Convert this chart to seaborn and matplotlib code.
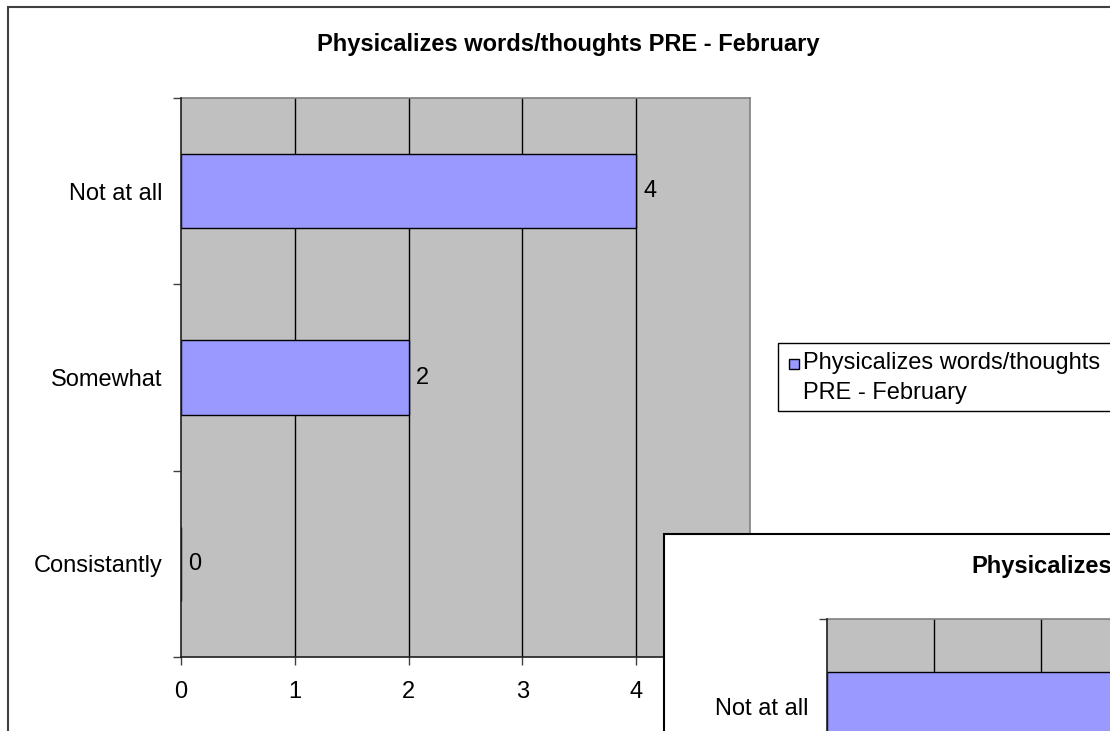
import matplotlib
matplotlib.use('Agg')
import matplotlib.pyplot as plt
import seaborn as sns
import pandas as pd
from matplotlib.patches import Rectangle

# data
categories = ['Not at all', 'Somewhat', 'Consistantly']
counts = [4, 2, 0]
x_ticks = [0, 1, 2, 3, 4]
series_name = 'Physicalizes words/thoughts PRE - February'
legend_lines = ['Physicalizes words/thoughts', 'PRE - February']

df = pd.DataFrame({'answer': categories, 'count': counts})

sns.set_style('white')
plt.rcParams['font.family'] = ['Liberation Sans', 'DejaVu Sans']
plt.rcParams['text.color'] = 'black'
plt.rcParams['xtick.labelcolor'] = 'black'
plt.rcParams['ytick.labelcolor'] = 'black'

W, H = 1110, 731
fig = plt.figure(figsize=(W / 100, H / 100), dpi=100)
fig.patch.set_facecolor('white')

BAR = '#9999FF'
PLOT_BG = '#C0C0C0'
FS = 17


def px(x, y):
    # pixel (top-left origin) -> figure fraction
    return x / W, 1 - y / H


def px_axes(x0, y0, x1, y1):
    return fig.add_axes([x0 / W, 1 - y1 / H, (x1 - x0) / W, (y1 - y0) / H])


def style_chart(ax, label_bars=True, show_xlabels=True, ylabels=categories):
    sns.barplot(data=df, x='count', y='answer', order=categories, orient='h',
                color=BAR, edgecolor='black', linewidth=1.0, width=0.4,
                saturation=1, ax=ax, zorder=3)
    ax.set_facecolor(PLOT_BG)
    ax.set_xlim(0, 5)
    ax.set_ylim(2.5, -0.5)
    ax.set_xticks(x_ticks)
    if show_xlabels:
        ax.set_xticklabels([str(t) for t in x_ticks], fontsize=FS)
    else:
        ax.set_xticklabels([])
    ax.set_yticks(range(len(categories)))
    ax.set_yticklabels(ylabels, fontsize=FS)
    ax.set_yticks([-0.5, 0.5, 1.5, 2.5], minor=True)
    ax.tick_params(axis='y', which='major', left=True, length=0, pad=13.5)
    ax.tick_params(axis='y', which='minor', left=True, length=6, width=1,
                   color='#404040', direction='out')
    ax.tick_params(axis='x', which='major', bottom=True, length=6, width=1,
                   color='#404040', direction='out', pad=11)
    ax.set_xlabel('')
    ax.set_ylabel('')
    for xv in x_ticks[1:]:
        ax.axvline(xv, color='black', linewidth=1, zorder=1)
    for side in ['top', 'right']:
        ax.spines[side].set_color('#808080')
        ax.spines[side].set_linewidth(1.2)
    for side in ['left', 'bottom']:
        ax.spines[side].set_color('#202020')
        ax.spines[side].set_linewidth(1.2)
        ax.spines[side].set_zorder(4)
    if label_bars:
        for i, v in enumerate(counts):
            ax.annotate(str(v), xy=(v, i), xytext=(5, 0), textcoords='offset points',
                        ha='left', va='center', fontsize=FS)


# outer chart frame
fig.patches.append(Rectangle(px(8, 900), 1.2, (900 - 7) / H, transform=fig.transFigure,
                             facecolor='white', edgecolor='#404040', linewidth=1.5, zorder=-1))

ax = px_axes(181, 98, 750, 657)
style_chart(ax)

fig.text(*px(568, 44), series_name, ha='center', va='center',
         fontsize=FS, fontweight='bold')

# legend box (runs off the right edge, as in the reference)
fig.patches.append(Rectangle(px(778, 411), 0.5, (411 - 343) / H, transform=fig.transFigure,
                             facecolor='white', edgecolor='black', linewidth=1, zorder=5))
fig.patches.append(Rectangle(px(789, 369), 10 / W, 10 / H, transform=fig.transFigure,
                             facecolor=BAR, edgecolor='black', linewidth=1, zorder=6))
fig.text(*px(803, 363), legend_lines[0], ha='left', va='center', fontsize=FS, zorder=6)
fig.text(*px(803, 393), legend_lines[1], ha='left', va='center', fontsize=FS, zorder=6)

# second chart window overlapping on bottom right (only its top-left corner is visible)
fig.patches.append(Rectangle(px(664, 900), 1.0, (900 - 534) / H, transform=fig.transFigure,
                             facecolor='white', edgecolor='black', linewidth=1.5, zorder=10))
ax2 = px_axes(827, 619, 827 + 5 * 107, 619 + 525)
ax2.set_zorder(11)
style_chart(ax2, label_bars=False, show_xlabels=False,
            ylabels=[categories[0]] + [''] * (len(categories) - 1))
fig.text(*px(971, 566), series_name.split()[0], ha='left', va='center',
         fontsize=FS, fontweight='bold', zorder=12)

fig.savefig('out.png', dpi=100)
